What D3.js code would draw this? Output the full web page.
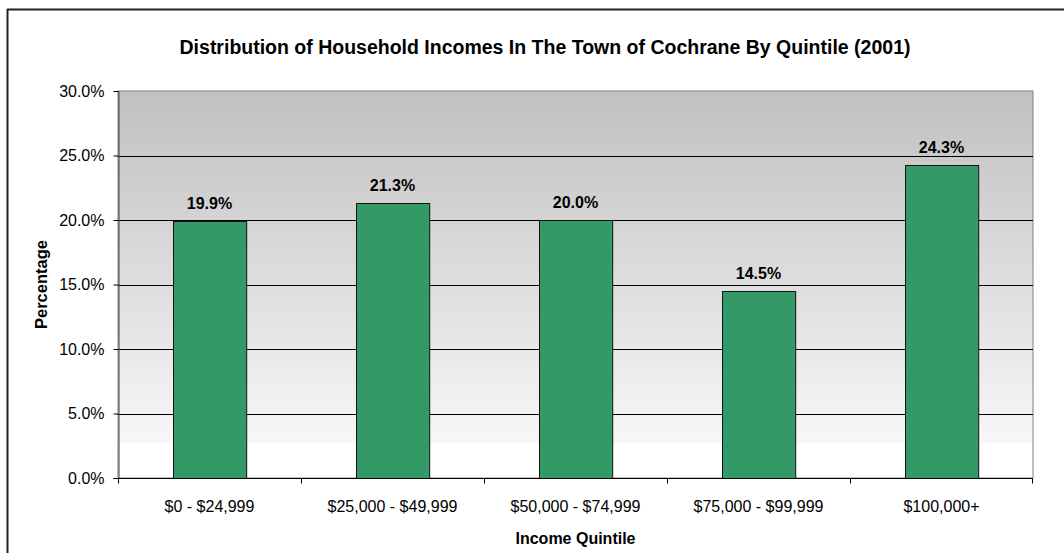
<!DOCTYPE html>
<html>
<head>
<meta charset="utf-8">
<script src="https://cdn.jsdelivr.net/npm/d3@7"></script>
<style>
  html, body { margin: 0; padding: 0; background: #fff; }
  svg { display: block; font-family: "Liberation Sans", Arial, sans-serif; }
</style>
</head>
<body>
<svg id="chart" width="1064" height="553"></svg>
<script>
// Household income distribution, Town of Cochrane, 2001
const categories = ["$0 - $24,999", "$25,000 - $49,999", "$50,000 - $74,999", "$75,000 - $99,999", "$100,000+"];
const percentages = [19.9, 21.3, 20.0, 14.5, 24.3];
const yTicks = [0, 5, 10, 15, 20, 25, 30];

const svg = d3.select("#chart");
const W = 1064, H = 553;
const plot = { left: 118, right: 1033, top: 91, bottom: 478 };

// Outer chart frame
svg.append("line").attr("x1", 7).attr("x2", W).attr("y1", 9.5).attr("y2", 9.5)
  .attr("stroke", "#222").attr("stroke-width", 2);
svg.append("line").attr("x1", 7.5).attr("x2", 7.5).attr("y1", 9).attr("y2", H)
  .attr("stroke", "#222").attr("stroke-width", 2);

// Plot-area background gradient
const defs = svg.append("defs");
const grad = defs.append("linearGradient").attr("id", "bg")
  .attr("x1", 0).attr("y1", 0).attr("x2", 0).attr("y2", 1);
grad.append("stop").attr("offset", "0%").attr("stop-color", "#c0c0c0");
grad.append("stop").attr("offset", "91%").attr("stop-color", "#f7f7f7");
grad.append("stop").attr("offset", "91%").attr("stop-color", "#ffffff");
grad.append("stop").attr("offset", "100%").attr("stop-color", "#ffffff");

const x = d3.scaleBand().domain(categories).range([plot.left, plot.right]).paddingInner(0.6).paddingOuter(0.3);
const xCat = d3.scaleBand().domain(categories).range([plot.left, plot.right]);
const y = d3.scaleLinear().domain([0, 30]).range([plot.bottom, plot.top]);

svg.append("rect")
  .attr("x", plot.left).attr("y", plot.top)
  .attr("width", plot.right - plot.left).attr("height", plot.bottom - plot.top)
  .attr("fill", "url(#bg)").attr("stroke", "#808080").attr("stroke-width", 1);

// Horizontal gridlines
svg.append("g").selectAll("line").data(yTicks.filter(t => t > 0 && t < 30)).join("line")
  .attr("x1", plot.left).attr("x2", plot.right)
  .attr("y1", d => Math.round(y(d)) + 0.5).attr("y2", d => Math.round(y(d)) + 0.5)
  .attr("stroke", "#000").attr("stroke-width", 1);

// Y axis
const yAxis = svg.append("g").attr("transform", `translate(${plot.left + 0.5},0)`)
  .call(d3.axisLeft(y).tickValues(yTicks).tickFormat(d => d.toFixed(1) + "%").tickSize(5).tickPadding(9));
yAxis.select(".domain").attr("stroke", "#404040");
yAxis.selectAll(".tick line").attr("stroke", "#000");
yAxis.selectAll(".tick text").attr("font-size", 16).attr("fill", "#000").attr("font-family", "Liberation Sans, Arial, sans-serif");

// Bars
svg.append("g").selectAll("rect").data(percentages).join("rect")
  .attr("x", (d, i) => Math.round(x(categories[i])) + 0.5)
  .attr("y", d => Math.round(y(d)) + 0.5)
  .attr("width", x.bandwidth())
  .attr("height", d => plot.bottom - Math.round(y(d)))
  .attr("fill", "#339966").attr("stroke", "#111").attr("stroke-width", 1);

// X axis with category separators
const xAxisG = svg.append("g").attr("transform", `translate(0,${plot.bottom + 0.5})`);
xAxisG.append("line").attr("x1", plot.left).attr("x2", plot.right).attr("stroke", "#000");
xAxisG.selectAll("line.sep").data(categories.concat(["end"])).join("line").attr("class", "sep")
  .attr("x1", (d, i) => i < categories.length ? Math.round(xCat(d)) + 0.5 : plot.right - 0.5)
  .attr("x2", (d, i) => i < categories.length ? Math.round(xCat(d)) + 0.5 : plot.right - 0.5)
  .attr("y1", 0).attr("y2", 5).attr("stroke", "#000");
xAxisG.selectAll("text").data(categories).join("text")
  .attr("x", d => xCat(d) + xCat.bandwidth() / 2)
  .attr("y", 33)
  .attr("text-anchor", "middle").attr("font-size", 16).attr("fill", "#000")
  .text(d => d);

// Value labels
svg.append("g").selectAll("text").data(percentages).join("text")
  .attr("x", (d, i) => x(categories[i]) + x.bandwidth() / 2)
  .attr("y", d => y(d) - 12)
  .attr("text-anchor", "middle").attr("font-size", 16).attr("font-weight", "bold").attr("fill", "#000")
  .text(d => d.toFixed(1) + "%");

// Titles
svg.append("text").attr("x", 545).attr("y", 54).attr("text-anchor", "middle")
  .attr("font-size", 19.5).attr("font-weight", "bold").attr("fill", "#000")
  .text("Distribution of Household Incomes In The Town of Cochrane By Quintile (2001)");
svg.append("text").attr("x", (plot.left + plot.right) / 2).attr("y", 544).attr("text-anchor", "middle")
  .attr("font-size", 16).attr("font-weight", "bold").attr("fill", "#000")
  .text("Income Quintile");
svg.append("text").attr("transform", `translate(47,${(plot.top + plot.bottom) / 2}) rotate(-90)`)
  .attr("text-anchor", "middle").attr("font-size", 16.5).attr("font-weight", "bold").attr("fill", "#000")
  .text("Percentage");
</script>
</body>
</html>
